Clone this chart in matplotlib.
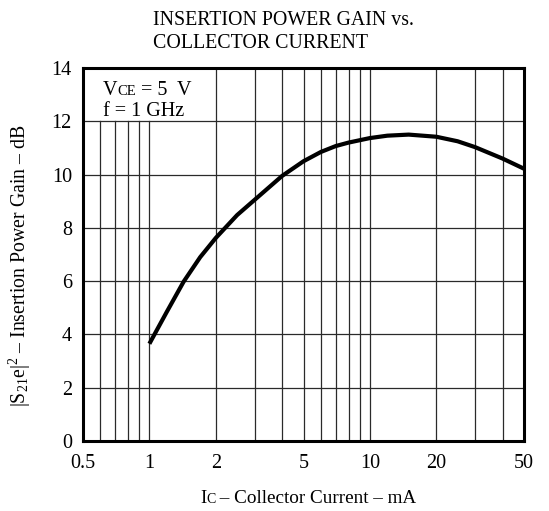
import matplotlib
matplotlib.use("Agg")
import matplotlib.pyplot as plt

# Data
ic_ma = [1.0, 1.2, 1.43, 1.7, 2.0, 2.5, 3.0, 4.0, 5.0, 6.0, 7.0, 8.0, 10.0, 12.0, 15.0, 20.0, 25.0, 30.0, 40.0, 50.0]
gain_db = [3.65, 4.85, 5.98, 6.9, 7.62, 8.48, 9.05, 9.95, 10.5, 10.85, 11.07, 11.2, 11.37, 11.46, 11.5, 11.42, 11.25, 11.03, 10.6, 10.22]
xticks = [0.5, 1, 2, 5, 10, 20, 50]
xtick_labels = ["0.5", "1", "2", "5", "10", "20", "50"]
yticks = [0, 2, 4, 6, 8, 10, 12, 14]
short_vgrid = [0.6, 0.7, 0.8, 0.9, 1]
full_vgrid = [2, 3, 4, 5, 6, 7, 8, 9, 10, 20, 30, 40]

plt.rcParams['font.family'] = ['Liberation Serif', 'DejaVu Serif']
plt.rcParams['mathtext.fontset'] = 'custom'
plt.rcParams['mathtext.rm'] = 'Liberation Serif'

W, H = 549, 511
fig = plt.figure(figsize=(W/100, H/100), dpi=100)
ax = fig.add_axes([83/W, 1-441/H, (524-83)/W, (441-68)/H])
ax.set_xscale('log')
ax.set_xlim(0.5, 50)
ax.set_ylim(0, 14)

# grid
for x in short_vgrid:
    ax.plot([x, x], [0, 12], color='#2a2a2a', lw=0.9, zorder=1)
for x in full_vgrid:
    ax.plot([x, x], [0, 14], color='#2a2a2a', lw=0.9, zorder=1)
for y in yticks[1:-1]:
    ax.axhline(y, color='#2a2a2a', lw=0.9, zorder=1)

ax.plot(ic_ma, gain_db, color='black', lw=3.0, zorder=3,
        solid_capstyle='butt', solid_joinstyle='round')

ax.set_xticks(xticks)
ax.set_xticklabels(xtick_labels)
ax.xaxis.set_minor_locator(matplotlib.ticker.NullLocator())
ax.set_yticks(yticks)
ax.tick_params(length=0, labelsize=14.5)
ax.tick_params(axis='x', pad=9)
ax.tick_params(axis='y', pad=8)
for s in ax.spines.values():
    s.set_linewidth(2.2)

renderer = fig.canvas.get_renderer()

def seq_text(x_px, y_px, pieces):
    x = x_px
    for s, fs in pieces:
        t = fig.text(x/W, 1-y_px/H, s, fontsize=fs, ha='left', va='baseline')
        bb = t.get_window_extent(renderer=renderer)
        x = bb.x1

# Annotation box
seq_text(103, 95, [("V", 14.5), ("CE", 10.5), (" = 5  V", 14.5)])
seq_text(103, 116, [("f = 1 GHz", 14.5)])

# title
fig.text(153/W, 1-25/H, "INSERTION POWER GAIN vs.", fontsize=14.3, ha='left', va='baseline')
fig.text(153/W, 1-48/H, "COLLECTOR CURRENT", fontsize=14.3, ha='left', va='baseline')

# x label
seq_text(200, 503, [("I", 13.8), ("C", 10), (" – Collector Current – mA", 13.8)])

# y label (rotated)
fig.text(20/W, 1-266/H, r"$\mathregular{|S_{21}e|^2}$ – Insertion Power Gain – dB", fontsize=14.2,
         rotation=90, ha='center', va='center')

fig.savefig("out.png", dpi=100)
